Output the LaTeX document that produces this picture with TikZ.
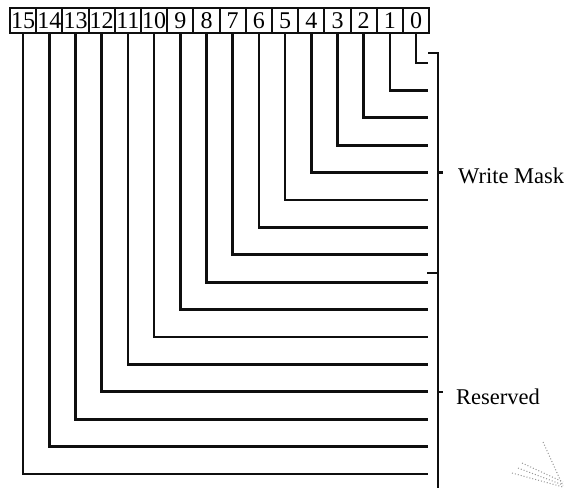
\documentclass[tikz,border=0pt]{standalone}
\usepackage{fontspec}
\setmainfont{Liberation Serif}
\usepackage{tikz}
\usetikzlibrary{positioning}
\definecolor{inkline}{RGB}{15,15,15}
\definecolor{scanmark}{RGB}{150,150,150}
\newcommand{\bitfont}{\fontsize{24}{26}\selectfont}
\newcommand{\labelfont}{\fontsize{22.5}{24}\selectfont}
\tikzset{
  bitbox/.style={draw=inkline, line width=2pt, minimum width=26.2pt,
    minimum height=25pt, inner sep=0pt, outer sep=0pt, font=\bitfont},
  wire/.style={draw=inkline, line width=2.7pt},
  brace/.style={draw=inkline, line width=2.5pt},
  fieldlabel/.style={font=\labelfont, anchor=west, inner sep=0pt},
  halftone/.style={draw=scanmark, line width=1pt, dotted}
}

\begin{document}
\begin{tikzpicture}[x=1pt,y=-1pt]
  \useasboundingbox (0,0) rectangle (572,488);

  \node[bitbox] (bit15) at (23.1,20.5) {15};
  \node[bitbox] (bit14) at (49.3,20.5) {14};
  \node[bitbox] (bit13) at (75.5,20.5) {13};
  \node[bitbox] (bit12) at (101.7,20.5) {12};
  \node[bitbox] (bit11) at (127.9,20.5) {11};
  \node[bitbox] (bit10) at (154.1,20.5) {10};
  \node[bitbox] (bit9) at (180.3,20.5) {9};
  \node[bitbox] (bit8) at (206.5,20.5) {8};
  \node[bitbox] (bit7) at (232.7,20.5) {7};
  \node[bitbox] (bit6) at (258.9,20.5) {6};
  \node[bitbox] (bit5) at (285.1,20.5) {5};
  \node[bitbox] (bit4) at (311.3,20.5) {4};
  \node[bitbox] (bit3) at (337.5,20.5) {3};
  \node[bitbox] (bit2) at (363.7,20.5) {2};
  \node[bitbox] (bit1) at (389.9,20.5) {1};
  \node[bitbox] (bit0) at (416.1,20.5) {0};

  \coordinate (end0) at (428,63);
  \coordinate (end1) at (428,90.4);
  \coordinate (end2) at (428,117.8);
  \coordinate (end3) at (428,145.2);
  \coordinate (end4) at (428,172.6);
  \coordinate (end5) at (428,200);
  \coordinate (end6) at (428,227.4);
  \coordinate (end7) at (428,254.8);
  \coordinate (end8) at (428,282.2);
  \coordinate (end9) at (428,309.6);
  \coordinate (end10) at (428,337);
  \coordinate (end11) at (428,364.4);
  \coordinate (end12) at (428,391.8);
  \coordinate (end13) at (428,419.2);
  \coordinate (end14) at (428,446.6);
  \coordinate (end15) at (428,474);

  \draw[wire] (bit0.south) |- (end0);
  \draw[wire] (bit1.south) |- (end1);
  \draw[wire] (bit2.south) |- (end2);
  \draw[wire] (bit3.south) |- (end3);
  \draw[wire] (bit4.south) |- (end4);
  \draw[wire] (bit5.south) |- (end5);
  \draw[wire] (bit6.south) |- (end6);
  \draw[wire] (bit7.south) |- (end7);
  \draw[wire] (bit8.south) |- (end8);
  \draw[wire] (bit9.south) |- (end9);
  \draw[wire] (bit10.south) |- (end10);
  \draw[wire] (bit11.south) |- (end11);
  \draw[wire] (bit12.south) |- (end12);
  \draw[wire] (bit13.south) |- (end13);
  \draw[wire] (bit14.south) |- (end14);
  \draw[wire] (bit15.south) |- (end15);

  \coordinate (bracetop) at (428,53);
  \coordinate (bracecorner) at (438,53);
  \coordinate (bracebottom) at (438,488);
  \coordinate (splitstart) at (427,273);
  \coordinate (splitjoin) at (438,273);
  \coordinate (masktick) at (438,172.6);
  \coordinate (restick) at (438,391.8);

  \draw[brace] (bracetop) -- (bracecorner) -- (bracebottom);
  \draw[brace] (splitstart) -- (splitjoin);

  \node[fieldlabel] (writemask) at (458,176) {Write Mask};
  \node[fieldlabel] (reserved) at (456,397) {Reserved};
  \draw[brace] (masktick) -- ++(5,0);
  \draw[brace] (restick) -- ++(5,0);

  \draw[halftone] (543,442) -- (563,486);
  \draw[halftone] (522,463) -- (563,482);
  \draw[halftone] (512,473) -- (563,487);
  \draw[halftone] (518,468) -- (563,485);
\end{tikzpicture}
\end{document}
